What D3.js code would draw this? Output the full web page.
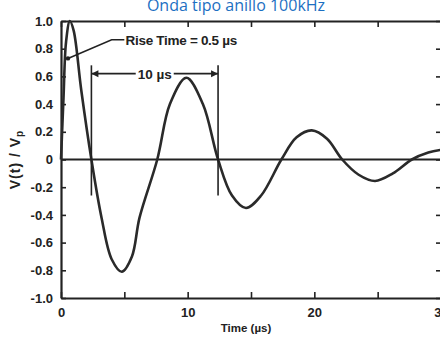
<!DOCTYPE html>
<html>
<head>
<meta charset="utf-8">
<script src="https://cdn.jsdelivr.net/npm/d3@7"></script>
<style>
    html, body { margin: 0; padding: 0; background: #fff; }
    svg { display: block; }
    .ax text { font-family: "Liberation Sans", Arial, sans-serif; font-weight: bold; font-size: 13px; fill: #222; }
</style>
</head>
<body>
<svg id="chart" width="440" height="343"></svg>
<script>
// waveform (time in µs, V(t)/Vp)
const times = [0, 0.2, 0.4, 0.7, 1.0, 1.6, 2.4, 3.2, 4.0, 4.8, 5.6, 6.2, 7.6, 8.6, 9.9, 11.2, 12.4, 13.5, 14.6, 15.8, 17.4, 18.6, 19.8, 21.0, 22.2, 23.5, 24.8, 26.2, 27.7, 29.0, 30];
const values = [0, 0.45, 0.85, 1.0, 0.93, 0.5, 0, -0.42, -0.72, -0.81, -0.7, -0.42, 0, 0.4, 0.59, 0.4, 0, -0.26, -0.35, -0.26, 0, 0.16, 0.21, 0.15, 0, -0.11, -0.155, -0.1, 0, 0.05, 0.07];

const xTicks = [0, 5, 10, 15, 20, 25, 30];
const xTickLabels = ["0", "", "10", "", "20", "", "30"];
const yTicks = [1.0, 0.8, 0.6, 0.4, 0.2, 0, -0.2, -0.4, -0.6, -0.8, -1.0];
const yTickLabels = ["1.0", "0.8", "0.6", "0.4", "0.2", "0", "-0.2", "-0.4", "-0.6", "-0.8", "-1.0"];

// annotations
const riseLabel = "Rise Time = 0.5 µs";
const riseLeader = [[0.55, 0.73], [4.0, 0.865], [5.0, 0.865]];
const periodLabel = "10 µs";
const periodStart = 2.4, periodEnd = 12.4;
const periodArrowV = 0.62, periodTop = 0.68, periodBottom = -0.26;

const svg = d3.select("#chart");
const x = d3.scaleLinear().domain([0, 30]).range([61, 441]);
const y = d3.scaleLinear().domain([-1, 1]).range([298, 21]);

svg.append("rect").attr("width", 440).attr("height", 343).attr("fill", "#fff");

// title
svg.append("text")
    .attr("x", 236).attr("y", 11)
    .attr("text-anchor", "middle")
    .attr("font-family", "'Open Sans', sans-serif")
    .attr("font-size", 16)
    .attr("fill", "#1c6fc2")
    .text("Onda tipo anillo 100kHz");

// axes with inward ticks
svg.append("g").attr("class", "ax").attr("transform", `translate(0,${y(-1)})`)
    .call(d3.axisBottom(x).tickValues(xTicks).tickSize(-6).tickSizeOuter(0).tickPadding(10)
        .tickFormat((d, i) => xTickLabels[i]));
svg.append("g").attr("class", "ax").attr("transform", `translate(0,${y(1)})`)
    .call(d3.axisTop(x).tickValues(xTicks).tickSize(-6).tickSizeOuter(0).tickFormat(""));
svg.append("g").attr("class", "ax").attr("transform", `translate(${x(0)},0)`)
    .call(d3.axisLeft(y).tickValues(yTicks).tickSize(-5).tickSizeOuter(0).tickPadding(8)
        .tickFormat((d, i) => yTickLabels[i]));
svg.append("g").attr("class", "ax").attr("transform", `translate(${x(30)},0)`)
    .call(d3.axisRight(y).tickValues(yTicks).tickSize(-5).tickSizeOuter(0).tickFormat(""));

svg.selectAll(".ax .domain").attr("stroke", "#222").attr("stroke-width", 2.2);
svg.selectAll(".ax .tick line").attr("stroke", "#222").attr("stroke-width", 1.6);

// zero line
svg.append("line")
    .attr("x1", x(0)).attr("x2", x(30))
    .attr("y1", y(0)).attr("y2", y(0))
    .attr("stroke", "#222").attr("stroke-width", 1.8);

// axis titles
svg.append("text")
    .attr("x", 246).attr("y", 332)
    .attr("text-anchor", "middle")
    .attr("font-family", "'Liberation Sans', Arial, sans-serif")
    .attr("font-weight", "bold").attr("font-size", 11.5).attr("fill", "#222")
    .text("Time (µs)");

const yTitle = svg.append("text")
    .attr("transform", `translate(20,${y(0)}) rotate(-90)`)
    .attr("text-anchor", "middle")
    .attr("font-family", "'Liberation Sans', Arial, sans-serif")
    .attr("font-weight", "bold").attr("font-size", 14).attr("fill", "#222")
    .attr("letter-spacing", 1);
yTitle.append("tspan").text("V(t) / V");
yTitle.append("tspan").attr("font-size", 10).attr("dy", 3).text("p");

// waveform
const line = d3.line()
    .x(d => x(d[0]))
    .y(d => y(d[1]))
    .curve(d3.curveCatmullRom.alpha(0.5));

svg.append("path")
    .datum(d3.zip(times, values))
    .attr("d", line)
    .attr("fill", "none")
    .attr("stroke", "#2a2a2a")
    .attr("stroke-width", 2.6)
    .attr("stroke-linejoin", "round");

// rise time annotation
svg.append("path")
    .attr("d", d3.line().x(d => x(d[0])).y(d => y(d[1]))(riseLeader))
    .attr("fill", "none").attr("stroke", "#222").attr("stroke-width", 1.6);
svg.append("circle")
    .attr("cx", x(riseLeader[0][0])).attr("cy", y(riseLeader[0][1]))
    .attr("r", 2.2).attr("fill", "#222");
svg.append("text")
    .attr("x", x(5.1)).attr("y", y(0.865) + 5)
    .attr("font-family", "'Liberation Sans', Arial, sans-serif")
    .attr("font-weight", "bold").attr("font-size", 13.5).attr("fill", "#222")
    .attr("letter-spacing", -0.3)
    .text(riseLabel);

// period bracket
const bracket = svg.append("g").attr("stroke", "#222").attr("stroke-width", 1.6);
[periodStart, periodEnd].forEach(t => {
    bracket.append("line")
        .attr("x1", x(t)).attr("x2", x(t))
        .attr("y1", y(periodTop)).attr("y2", y(periodBottom));
});
const midT = (periodStart + periodEnd) / 2;
const labelHalf = 19;
bracket.append("line")
    .attr("x1", x(periodStart)).attr("x2", x(midT) - labelHalf)
    .attr("y1", y(periodArrowV)).attr("y2", y(periodArrowV));
bracket.append("line")
    .attr("x1", x(midT) + labelHalf).attr("x2", x(periodEnd))
    .attr("y1", y(periodArrowV)).attr("y2", y(periodArrowV));
const ay = y(periodArrowV);
svg.append("path")
    .attr("d", `M${x(periodStart)},${ay}l7,-3.5v7z M${x(periodEnd)},${ay}l-7,-3.5v7z`)
    .attr("fill", "#222");
svg.append("text")
    .attr("x", x(midT)).attr("y", ay + 5)
    .attr("text-anchor", "middle")
    .attr("font-family", "'Liberation Sans', Arial, sans-serif")
    .attr("font-weight", "bold").attr("font-size", 13.5).attr("fill", "#222")
    .text(periodLabel);
</script>
</body>
</html>
